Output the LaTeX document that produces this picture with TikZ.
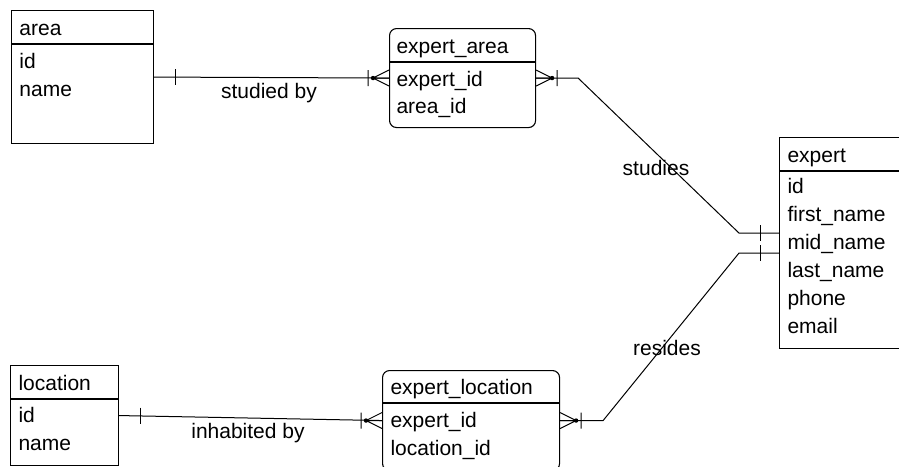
\documentclass[tikz,border=0pt]{standalone}
\usepackage{fontspec}
\setmainfont{Liberation Sans}
\tikzset{
  tbl/.style={draw,line width=1.1pt,anchor=north west,inner sep=0pt},
  assoc/.style={tbl,rounded corners=7pt},
  fld/.style={anchor=base west,inner sep=0pt,font=\fontsize{21}{25}\selectfont},
  rel/.style={anchor=base,inner sep=0pt,font=\fontsize{21}{25}\selectfont},
  one/.pic={\draw[line width=1pt] (0,-8) -- (0,8);},
  many/.pic={\draw[line width=1pt] (0,-8) -- (-16,0) -- (0,8) (0,0) -- (-16,0) (-21,-8) -- (-21,8);
             \fill (-16,0) circle (2.2);}
}
\begin{document}
\begin{tikzpicture}[x=1pt,y=-1pt,line width=1pt]
  \useasboundingbox (0,0) rectangle (899,466);
  \clip (0,0) rectangle (899,466);
  % tables
  \node[tbl,minimum width=142,minimum height=133] (area) at (11,10) {};
  \draw[line width=1.1pt] (area.north west) ++(0,34) -- ++(142,0);
  \node[fld] (areaT) at (19,35) {area};
  \node[fld] (areaA) at (19,68) {id};
  \node[fld] (areaB) at (19,96) {name};

  \node[assoc,minimum width=146,minimum height=99] (exparea) at (389,28) {};
  \draw[line width=1.1pt] (exparea.north west) ++(0,34) -- ++(146,0);
  \node[fld] (expareaT) at (396,53) {expert\_area};
  \node[fld] (expareaA) at (396,86) {expert\_id};
  \node[fld] (expareaB) at (396,113) {area\_id};

  \node[tbl,minimum width=130,minimum height=211] (expert) at (779,137) {};
  \draw[line width=1.1pt] (expert.north west) ++(0,34) -- ++(130,0);
  \node[fld] (expertT) at (787,162) {expert};
  \foreach \f [count=\i] in {id,first\_name,mid\_name,last\_name,phone,email}
    \node[fld] (expert\i) at (787,165+28*\i) {\f};

  \node[tbl,minimum width=108,minimum height=100] (location) at (10,365) {};
  \draw[line width=1.1pt] (location.north west) ++(0,34) -- ++(108,0);
  \node[fld] (locationT) at (18,390) {location};
  \node[fld] (locationA) at (18,422) {id};
  \node[fld] (locationB) at (18,450) {name};

  \node[assoc,minimum width=177,minimum height=100] (exploc) at (382,370) {};
  \draw[line width=1.1pt] (exploc.north west) ++(0,33) -- ++(177,0);
  \node[fld] (explocT) at (390,394) {expert\_location};
  \node[fld] (explocA) at (390,427) {expert\_id};
  \node[fld] (explocB) at (390,455) {location\_id};

  % relations
  \draw (area.east) -- (exparea.west);
  \path (area.east) pic[xshift=21pt]{one} (exparea.west) pic{many};
  \node[rel] (studiedby) at (269,98) {studied by};

  \draw (location.east) -- (exploc.west);
  \path (location.east) pic[xshift=21pt]{one} (exploc.west) pic{many};
  \node[rel] (inhabitedby) at (248,438) {inhabited by};

  \draw (exparea.east) -- ++(42,0) -- ([xshift=-40pt,yshift=10pt]expert.west) -- ([yshift=10pt]expert.west);
  \path (exparea.east) pic[xscale=-1]{many} ([yshift=10pt]expert.west) pic[xshift=-19pt]{one};
  \node[rel] (studies) at (656,175) {studies};

  \draw (exploc.east) -- ++(43,0) -- ([xshift=-40pt,yshift=-10pt]expert.west) -- ([yshift=-10pt]expert.west);
  \path (exploc.east) pic[xscale=-1]{many} ([yshift=-10pt]expert.west) pic[xshift=-19pt]{one};
  \node[rel] (resides) at (667,355) {resides};
\end{tikzpicture}
\end{document}
